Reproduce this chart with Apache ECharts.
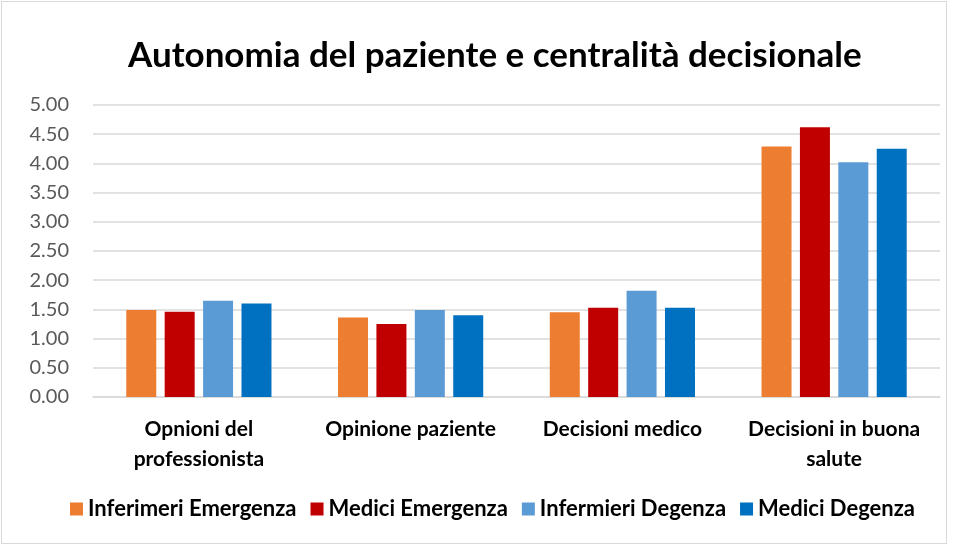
<!DOCTYPE html>
<html>
<head>
<meta charset="utf-8">
<script src="https://cdn.jsdelivr.net/npm/echarts@6/dist/echarts.min.js"></script>
<style>
  html, body { margin: 0; padding: 0; background: #fff; }
  #chart { position: absolute; left: 1px; top: 1px; width: 944px; height: 541px; border: 1px solid #d9d9d9; }
</style>
</head>
<body>
<div id="chart"></div>
<script>
const categories = ['Opnioni del\nprofessionista', 'Opinione paziente', 'Decisioni medico', 'Decisioni in buona\nsalute'];
const seriesNames = ['Inferimeri Emergenza', 'Medici Emergenza', 'Infermieri Degenza', 'Medici Degenza'];
const infEmergenza = [1.49, 1.36, 1.45, 4.29];
const medEmergenza = [1.46, 1.25, 1.53, 4.62];
const infDegenza = [1.65, 1.49, 1.82, 4.02];
const medDegenza = [1.60, 1.40, 1.53, 4.25];
const colors = ['#ed7d31', '#c00000', '#5b9bd5', '#0070c0'];

const chart = echarts.init(document.getElementById('chart'));
const font = 'Lato, "Open Sans", sans-serif';

const makeSeries = (name, data) => ({
    name: name,
    type: 'bar',
    data: data,
    barWidth: 30,
    barGap: '28%',
    barCategoryGap: '31%'
});

chart.setOption({
    color: colors,
    textStyle: { fontFamily: font },
    title: {
        text: 'Autonomia del paziente e centralità decisionale',
        left: 121,
        top: 31,
        textStyle: { fontSize: 35, fontWeight: 'bold', color: '#000', fontFamily: font }
    },
    legend: {
        bottom: 18,
        left: 63,
        itemWidth: 13,
        itemHeight: 13,
        itemGap: 14,
        icon: 'rect',
        textStyle: { fontSize: 22, fontWeight: 'bold', color: '#000', fontFamily: font },
        data: seriesNames
    },
    grid: { left: 91, right: 6, top: 103, bottom: 146, containLabel: false },
    xAxis: {
        type: 'category',
        data: categories,
        axisLine: { lineStyle: { color: '#d9d9d9', width: 1.5 } },
        axisTick: { show: false },
        axisLabel: {
            fontSize: 21,
            fontWeight: 'bold',
            color: '#000',
            margin: 17,
            lineHeight: 30,
            interval: 0
        }
    },
    yAxis: {
        type: 'value',
        min: 0,
        max: 5,
        interval: 0.5,
        axisLine: { show: false },
        axisTick: { show: false },
        splitLine: { lineStyle: { color: '#d9d9d9', width: 1.5 } },
        axisLabel: {
            fontSize: 20,
            color: '#595959',
            margin: 24,
            formatter: v => v.toFixed(2)
        }
    },
    series: [
        makeSeries(seriesNames[0], infEmergenza),
        makeSeries(seriesNames[1], medEmergenza),
        makeSeries(seriesNames[2], infDegenza),
        makeSeries(seriesNames[3], medDegenza)
    ]
});
</script>
</body>
</html>
